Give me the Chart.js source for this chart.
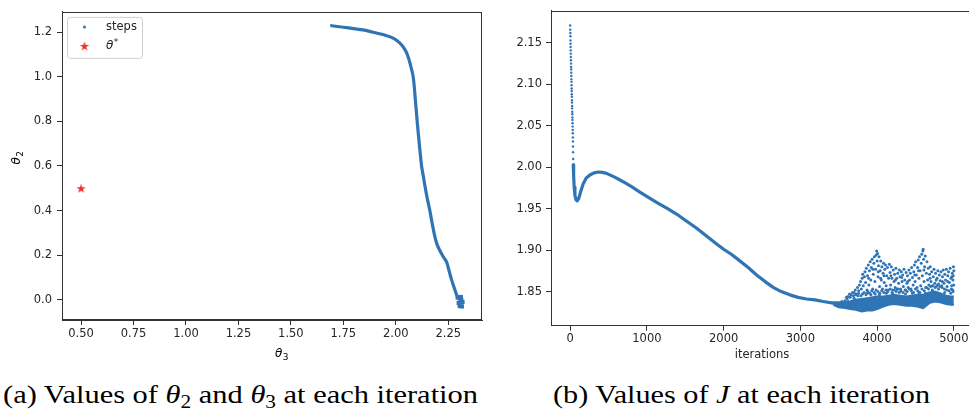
<!DOCTYPE html>
<html>
<head>
<meta charset="utf-8">
<script src="https://cdn.jsdelivr.net/npm/chart.js@4.4.1/dist/chart.umd.min.js"></script>
<style>
  body { margin: 0; background: #fff; width: 969px; height: 414px; overflow: hidden; position: relative; }
  #left { position: absolute; left: 0; top: 0; width: 490px; height: 362px; }
  #right { position: absolute; left: 490px; top: 0; width: 479px; height: 362px; overflow: hidden; }
  .cap { position: absolute; top: 382px; font-family: 'Liberation Serif', serif; font-size: 26px; line-height: 1;
         white-space: nowrap; color: #000; transform-origin: 0 0; }
  .cap .s { font-size: 0.7em; vertical-align: -0.25em; }
</style>
</head>
<body>
<div id="left"><canvas id="c1" width="490" height="362"></canvas></div>
<div id="right"><canvas id="c2" width="490" height="362"></canvas></div>
<div class="cap" data-l="3" data-r="478">(a) Values of <i>θ</i><span class="s">2</span> and <i>θ</i><span class="s">3</span> at each iteration</div>
<div class="cap" data-l="553" data-r="930">(b) Values of <i>J</i> at each iteration</div>
<script>
// ---- left plot: path of (theta3, theta2) ----
const theta3Path = [1.694, 1.75, 1.80, 1.85, 1.89, 1.95, 1.99, 2.021, 2.04, 2.055, 2.068, 2.083, 2.093, 2.102,
  2.112, 2.123, 2.132, 2.141, 2.151, 2.163, 2.175, 2.187, 2.198, 2.21, 2.225, 2.242, 2.254, 2.266, 2.278, 2.29, 2.30];
const theta2Path = [1.229, 1.222, 1.216, 1.209, 1.200, 1.186, 1.172, 1.15, 1.127, 1.10, 1.06, 1.0, 0.90, 0.80,
  0.70, 0.60, 0.55, 0.50, 0.45, 0.397, 0.335, 0.28, 0.245, 0.221, 0.195, 0.170, 0.13, 0.089, 0.055, 0.022, 0.003];
// last iterations pile up near the end
const theta3End = [2.295, 2.31, 2.318, 2.30, 2.315, 2.305, 2.312];
const theta2End = [0.01, 0.012, -0.01, -0.015, -0.03, -0.028, 0.0];
const thetaStar = [0.5, 0.5]; // [theta3, theta2]
const leftXTicks = [0.5, 0.75, 1.0, 1.25, 1.5, 1.75, 2.0, 2.25];
const leftYTicks = [0, 0.2, 0.4, 0.6, 0.8, 1.0, 1.2];

// ---- right plot: J per iteration ----
const earlyIt = [0, 1, 2, 3, 4, 5, 6, 7, 8, 9, 10, 11, 12, 13, 14, 15, 16, 17, 18, 19,
  20, 21, 22, 23, 24, 25, 26, 27, 28, 29, 30, 31, 32, 33, 34, 35, 36, 37, 38, 39];
const earlyJ = [2.171, 2.166, 2.162, 2.158, 2.153, 2.149, 2.145, 2.141, 2.137, 2.133, 2.129, 2.125, 2.121, 2.118,
  2.114, 2.110, 2.106, 2.103, 2.099, 2.095, 2.092, 2.088, 2.085, 2.081, 2.078, 2.074, 2.071, 2.067, 2.064, 2.060,
  2.057, 2.053, 2.049, 2.045, 2.041, 2.036, 2.031, 2.025, 2.018, 2.010];
const mainIt = [40, 45, 52, 62, 75, 91, 110, 135, 170, 210, 257, 310, 365, 420, 474, 580, 690, 800, 908, 1030,
  1147, 1270, 1386, 1500, 1640, 1777, 1900, 2000, 2100, 2211, 2320, 2429, 2540, 2646, 2750, 2863, 2970, 3080,
  3190, 3297, 3430];
const mainJ = [2.003, 1.990, 1.976, 1.966, 1.961, 1.9595, 1.962, 1.970, 1.980, 1.987, 1.9906, 1.9932, 1.9942,
  1.9938, 1.9926, 1.988, 1.9825, 1.9765, 1.970, 1.963, 1.9565, 1.950, 1.9435, 1.936, 1.927, 1.917, 1.908, 1.901,
  1.895, 1.887, 1.879, 1.870, 1.862, 1.855, 1.850, 1.846, 1.843, 1.841, 1.840, 1.838, 1.836];
// dense lower band of the noisy phase
const bandIt = [3430, 3500, 3580, 3650, 3720, 3800, 3870, 3940, 4000, 4080, 4150, 4220, 4300, 4380, 4450, 4520,
  4600, 4680, 4750, 4820, 4900, 4960, 5000];
const bandLow = [1.834, 1.831, 1.830, 1.829, 1.828, 1.826, 1.827, 1.827, 1.829, 1.832, 1.834, 1.835, 1.834, 1.833,
  1.833, 1.832, 1.830, 1.836, 1.838, 1.837, 1.835, 1.834, 1.834];
const bandHigh = [1.837, 1.837, 1.837, 1.838, 1.840, 1.841, 1.842, 1.843, 1.844, 1.844, 1.845, 1.846, 1.845, 1.844,
  1.845, 1.846, 1.846, 1.849, 1.850, 1.848, 1.845, 1.844, 1.844];
// scattered points above the band
const cloud = [
  [3540,1.838],[3580,1.839],[3610,1.841],[3625,1.838],[3650,1.843],[3660,1.846],[3690,1.845],[3700,1.849],[3715,1.852],[3730,1.847],
  [3745,1.855],[3760,1.851],[3770,1.858],[3785,1.862],[3795,1.853],[3805,1.866],[3812,1.871],[3820,1.857],[3835,1.868],[3842,1.874],
  [3850,1.861],[3860,1.878],[3868,1.852],[3875,1.869],[3885,1.882],[3893,1.858],[3900,1.875],[3910,1.886],[3918,1.864],[3925,1.879],
  [3935,1.889],[3942,1.853],[3950,1.871],[3958,1.884],[3965,1.892],[3972,1.862],[3980,1.877],[3988,1.894],[3994,1.899],[4000,1.887],
  [4006,1.896],[4012,1.868],[4018,1.881],[4025,1.892],[4032,1.856],[4040,1.875],[4048,1.887],[4055,1.864],[4062,1.880],[4070,1.853],
  [4078,1.872],[4085,1.884],[4093,1.861],[4100,1.877],[4110,1.882],[4118,1.857],[4125,1.869],[4135,1.879],[4142,1.852],[4150,1.866],
  [4160,1.883],[4168,1.873],[4176,1.858],[4185,1.880],[4194,1.866],[4202,1.852],[4210,1.876],[4220,1.862],[4228,1.871],[4236,1.855],
  [4245,1.878],[4255,1.866],[4262,1.853],[4270,1.872],[4280,1.860],[4290,1.876],[4298,1.868],[4306,1.853],[4315,1.874],[4325,1.862],
  [4334,1.870],[4342,1.856],[4350,1.877],[4360,1.864],[4370,1.852],[4378,1.873],[4388,1.860],[4396,1.869],[4405,1.855],[4415,1.876],
  [4424,1.864],[4433,1.872],[4442,1.853],[4450,1.879],[4460,1.867],[4470,1.858],[4478,1.874],[4486,1.882],[4495,1.862],[4503,1.886],
  [4512,1.870],[4520,1.855],[4528,1.879],[4536,1.888],[4545,1.866],[4553,1.892],[4560,1.875],[4568,1.857],[4575,1.884],[4582,1.895],
  [4590,1.869],[4596,1.899],[4600,1.901],[4606,1.889],[4612,1.862],[4620,1.880],[4628,1.893],[4635,1.855],[4642,1.872],[4650,1.886],
  [4658,1.864],[4666,1.878],[4675,1.858],[4684,1.871],[4693,1.880],[4702,1.862],[4712,1.874],[4722,1.857],[4732,1.868],[4742,1.877],
  [4752,1.860],[4762,1.872],[4772,1.856],[4782,1.866],[4792,1.875],[4802,1.859],[4812,1.870],[4822,1.863],[4832,1.874],[4842,1.857],
  [4852,1.868],[4862,1.876],[4872,1.860],[4882,1.871],[4892,1.864],[4902,1.877],[4912,1.856],[4922,1.869],[4932,1.874],[4942,1.861],
  [4952,1.878],[4962,1.866],[4972,1.857],[4980,1.872],[4988,1.864],[4995,1.880],[5000,1.875],[4998,1.858],[4992,1.869],[4985,1.852],
  [3600,1.843],[3640,1.847],[3680,1.849],[3720,1.846],[3760,1.848],[3790,1.845],[3830,1.849],[3855,1.846],[3880,1.850],[3905,1.848],
  [3930,1.851],[3960,1.849],[3985,1.852],[4010,1.850],[4035,1.848],[4060,1.851],[4088,1.849],[4115,1.852],[4140,1.850],[4170,1.853],
  [4195,1.849],[4225,1.852],[4250,1.850],[4275,1.853],[4310,1.851],[4338,1.849],[4365,1.852],[4392,1.850],[4420,1.853],[4447,1.851],
  [4475,1.849],[4500,1.853],[4530,1.851],[4557,1.849],[4585,1.853],[4615,1.851],[4645,1.855],[4670,1.853],[4698,1.856],[4728,1.857],
  [4758,1.855],[4788,1.858],[4818,1.856],[4848,1.855],[4878,1.853],[4908,1.852],[4938,1.851],[4968,1.853],[4990,1.850],
  [3890,1.866],[3945,1.877],[4015,1.874],[4045,1.866],[4090,1.869],[4180,1.869],[4240,1.864],[4320,1.867],[4400,1.862],
  [4490,1.870],[4540,1.875],[4610,1.876],[4690,1.866],[4770,1.864],[4850,1.862],[4920,1.862],[4975,1.868],
  [3560,1.836],[3620,1.844],[3700,1.842],[3750,1.845],[3810,1.847],[3870,1.848],[3920,1.846],[3975,1.847],[4030,1.846],
  [4120,1.848],[4205,1.847],[4290,1.849],[4370,1.847],[4460,1.848],[4545,1.849],[4630,1.848],[4720,1.852],[4800,1.853],
  [4880,1.849],[4960,1.848]
];
const rightXTicks = [0, 1000, 2000, 3000, 4000, 5000];
const rightYTicks = [1.85, 1.90, 1.95, 2.00, 2.05, 2.10, 2.15];

const BLUE = '#2f75b5';
const RED = '#ee3124';
const INK = '#262626';

Chart.defaults.font.family = "'DejaVu Sans', sans-serif";
Chart.defaults.font.size = 11.5;
Chart.defaults.color = INK;

function pts(xs, ys) { return xs.map((x, i) => ({ x: x, y: ys[i] })); }

function starImage(size, color) {
  const c = document.createElement('canvas');
  c.width = size; c.height = size;
  const g = c.getContext('2d');
  const R = size / 2, r = R * 0.382, cx = size / 2, cy = size / 2 + size * 0.05;
  g.beginPath();
  for (let i = 0; i < 10; i++) {
    const a = -Math.PI / 2 + i * Math.PI / 5;
    const rr = i % 2 === 0 ? R : r;
    g.lineTo(cx + rr * Math.cos(a), cy + rr * Math.sin(a));
  }
  g.closePath();
  g.fillStyle = color;
  g.fill();
  return c;
}
const star = starImage(10, RED);

function axis(pos, min, max, tickValues, digits, fixed, pad, title) {
  return {
    type: 'linear', position: pos, min: min, max: max,
    afterBuildTicks: s => { s.ticks = tickValues.map(v => ({ value: v })); },
    ticks: { autoSkip: false, maxRotation: 0, padding: pad, callback: v => v.toFixed(digits) },
    grid: { drawOnChartArea: false, drawTicks: true, tickLength: 5, tickColor: '#333', tickWidth: 1 },
    border: { display: true, color: '#333', width: 1 },
    title: title || { display: false },
    afterFit: s => { if (pos === 'bottom') s.height = fixed; else s.width = fixed; }
  };
}

const frame = {
  id: 'frame',
  afterDatasetsDraw(chart) {
    const a = chart.chartArea, ctx = chart.ctx;
    ctx.save();
    ctx.strokeStyle = '#333';
    ctx.lineWidth = 1;
    ctx.strokeRect(Math.round(a.left) + 0.5, Math.round(a.top) + 0.5,
                   Math.round(a.right - a.left) - 1, Math.round(a.bottom - a.top) - 1);
    ctx.restore();
  }
};

// theta with a subscript, drawn at (x, y) baseline, optionally rotated
function drawTheta(ctx, x, y, sub, rot) {
  ctx.save();
  ctx.translate(x, y);
  ctx.rotate(rot);
  ctx.fillStyle = '#000';
  ctx.textBaseline = 'alphabetic';
  ctx.font = "italic 12px 'DejaVu Sans'";
  const w1 = ctx.measureText('θ').width;
  ctx.font = "9px 'DejaVu Sans'";
  const w2 = ctx.measureText(sub).width;
  const x0 = -(w1 + w2) / 2;
  ctx.font = "italic 12px 'DejaVu Sans'";
  ctx.fillText('θ', x0, 0);
  ctx.font = "9px 'DejaVu Sans'";
  ctx.fillText(sub, x0 + w1 + 0.5, 3);
  ctx.restore();
}

const thetaTitles = {
  id: 'thetaTitles',
  afterDraw(chart) {
    const a = chart.chartArea, ctx = chart.ctx;
    const cx = (a.left + a.right) / 2, cy = (a.top + a.bottom) / 2;
    drawTheta(ctx, cx + 9.5, a.bottom + 36.5, '3', 0);
    drawTheta(ctx, 19.5, cy - 8, '2', -Math.PI / 2);
  }
};

const boxLegend = {
  id: 'boxLegend',
  afterDraw(chart) {
    const a = chart.chartArea, ctx = chart.ctx;
    const x0 = a.left + 5, y0 = a.top + 5, w = 75, h = 41;
    ctx.save();
    ctx.beginPath();
    ctx.roundRect(x0 + 0.5, y0 + 0.5, w, h, 3);
    ctx.fillStyle = 'rgba(255,255,255,0.8)';
    ctx.fill();
    ctx.strokeStyle = '#d0d0d0';
    ctx.lineWidth = 1;
    ctx.stroke();
    // steps
    ctx.fillStyle = BLUE;
    ctx.beginPath();
    ctx.arc(x0 + 17.5, y0 + 10, 1.5, 0, Math.PI * 2);
    ctx.fill();
    ctx.fillStyle = INK;
    ctx.textBaseline = 'middle';
    ctx.font = "11.5px 'DejaVu Sans'";
    ctx.fillText(chart.data.datasets[0].label, x0 + 39, y0 + 10);
    // theta*
    ctx.drawImage(star, x0 + 12.5, y0 + 24);
    ctx.font = "italic 12px 'DejaVu Sans'";
    ctx.fillText('θ', x0 + 39, y0 + 28.5);
    const tw = ctx.measureText('θ').width;
    ctx.font = "9px 'DejaVu Sans'";
    ctx.fillText('*', x0 + 39 + tw + 0.5, y0 + 25.5);
    ctx.restore();
  }
};

new Chart(document.getElementById('c1'), {
  type: 'scatter',
  data: {
    datasets: [
      { label: 'steps', data: pts(theta3Path, theta2Path), showLine: true, borderColor: BLUE, borderWidth: 3.2,
        pointRadius: 0, borderCapStyle: 'round', borderJoinStyle: 'round', tension: 0.3 },
      { label: 'steps end', data: pts(theta3End, theta2End), pointStyle: 'rect', pointRadius: 3,
        backgroundColor: BLUE, borderWidth: 0 },
      { label: 'θ*', data: [{ x: thetaStar[0], y: thetaStar[1] }], pointStyle: star, pointRadius: 5 }
    ]
  },
  options: {
    responsive: false, animation: false,
    layout: { padding: { left: 0, top: 8, right: 8, bottom: 0 } },
    plugins: { legend: { display: false }, tooltip: { enabled: false } },
    scales: {
      x: axis('bottom', 0.409, 2.411, leftXTicks, 2, 42, 2.5),
      y: axis('left', -0.091, 1.291, leftYTicks, 1, 62, 5)
    }
  },
  plugins: [frame, boxLegend, thetaTitles]
});

new Chart(document.getElementById('c2'), {
  type: 'scatter',
  data: {
    datasets: [
      { label: 'J early', data: pts(earlyIt, earlyJ), pointRadius: 1.2, backgroundColor: BLUE, borderWidth: 0 },
      { label: 'J', data: pts(mainIt, mainJ), showLine: true, borderColor: BLUE, borderWidth: 3.2, pointRadius: 0,
        borderCapStyle: 'round', borderJoinStyle: 'round' },
      { label: 'band low', data: pts(bandIt, bandLow), showLine: true, borderColor: BLUE, borderWidth: 2,
        pointRadius: 0, fill: '+1', backgroundColor: BLUE },
      { label: 'band high', data: pts(bandIt, bandHigh), showLine: true, borderColor: BLUE, borderWidth: 2,
        pointRadius: 0 },
      { label: 'J noisy', data: cloud.map(p => ({ x: p[0], y: p[1] })), pointRadius: 1.5,
        backgroundColor: BLUE, borderWidth: 0 }
    ]
  },
  options: {
    responsive: false, animation: false,
    layout: { padding: { left: 0, top: 10.7, right: 7, bottom: 0 } },
    plugins: { legend: { display: false }, tooltip: { enabled: false } },
    scales: {
      x: axis('bottom', -250, 5250, rightXTicks, 0, 36.3, 1.6,
        { display: true, text: 'iterations', color: INK, font: { size: 11.5 }, padding: { top: 0, bottom: 0 } }),
      y: axis('left', 1.8088, 2.1886, rightYTicks, 2, 61, 4)
    }
  },
  plugins: [frame]
});

document.querySelectorAll('.cap').forEach(el => {
  const l = +el.dataset.l, r = +el.dataset.r;
  el.style.left = l + 'px';
  const w = el.getBoundingClientRect().width;
  el.style.transform = 'scaleX(' + ((r - l) / w) + ')';
});
</script>
</body>
</html>
